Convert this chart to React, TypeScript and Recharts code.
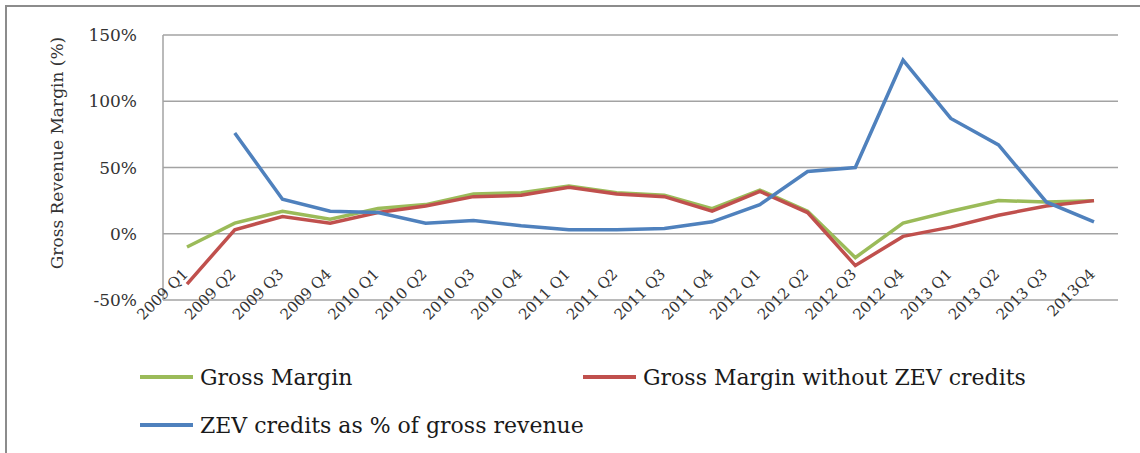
import React from 'react';
import { LineChart, Line, XAxis, YAxis, CartesianGrid, Legend } from 'recharts';

const quarters = [
    '2009 Q1', '2009 Q2', '2009 Q3', '2009 Q4',
    '2010 Q1', '2010 Q2', '2010 Q3', '2010 Q4',
    '2011 Q1', '2011 Q2', '2011 Q3', '2011 Q4',
    '2012 Q1', '2012 Q2', '2012 Q3', '2012 Q4',
    '2013 Q1', '2013 Q2', '2013 Q3', '2013Q4',
];
const grossMargin = [-10, 8, 17, 11, 19, 22, 30, 31, 36, 31, 29, 19, 33, 17, -18, 8, 17, 25, 24, 25];
const grossMarginNoZev = [-38, 3, 13, 8, 16, 21, 28, 29, 35, 30, 28, 17, 32, 16, -24, -2, 5, 14, 21, 25];
const zevShare = [null, 76, 26, 17, 16, 8, 10, 6, 3, 3, 4, 9, 22, 47, 50, 131, 87, 67, 24, 9];
const yTicks = [-50, 0, 50, 100, 150];

const SERIES = [
    { key: 'Gross Margin', color: '#9bbb59' },
    { key: 'Gross Margin without ZEV credits', color: '#c0504d' },
    { key: 'ZEV credits as % of gross revenue', color: '#4f81bd' },
];

const data = quarters.map((q, i) => ({
    name: q,
    'Gross Margin': grossMargin[i],
    'Gross Margin without ZEV credits': grossMarginNoZev[i],
    'ZEV credits as % of gross revenue': zevShare[i],
}));

const FONT = '"DejaVu Serif", serif';

const XTick = ({ x, y, payload }) => (
    <g transform={`translate(${x + 2},${y - 25})`}>
        <text textAnchor="end" transform="rotate(-45)" fontFamily={FONT} fontSize={15} fill="#333">
            {payload.value}
        </text>
    </g>
);

const LegendBox = () => {
    const pos = [
        { left: 140, top: 377 },
        { left: 583, top: 377 },
        { left: 140, top: 425 },
    ];
    return (
        <div style={{ position: 'relative', width: 1140, height: 100 }}>
            {SERIES.map((s, i) => (
                <div key={s.key} style={{ position: 'absolute', left: pos[i].left, top: pos[i].top - 355 - 14, height: 28, display: 'flex', alignItems: 'center', fontFamily: FONT, fontSize: 22, color: '#1a1a1a', whiteSpace: 'nowrap' }}>
                    <span style={{ display: 'inline-block', width: 53, height: 4, background: s.color, marginRight: 7 }} />
                    {s.key}
                </div>
            ))}
        </div>
    );
};

export default function App() {
    return (
        <div style={{ position: 'absolute', left: 0, top: 0, width: 1140, height: 453, background: '#fff' }}>
            <div style={{ position: 'absolute', left: 5, top: 5, width: 1140, height: 460, borderLeft: '2px solid #8c8c8c', borderTop: '2px solid #8c8c8c' }} />
            <LineChart width={1140} height={453} data={data} margin={{ top: 35, right: 22, left: 63, bottom: 113 }}>
                <CartesianGrid vertical={false} stroke="#a3a3a3" strokeWidth={1.5} />
                <XAxis dataKey="name" axisLine={false} tickLine={false} tickSize={0} tickMargin={0} tick={<XTick />} interval={0} height={40} padding={{ left: 24, right: 24 }} />
                <YAxis
                    width={100}
                    domain={[-50, 150]}
                    ticks={yTicks}
                    tickFormatter={(v) => `${v}%`}
                    axisLine={{ stroke: '#a3a3a3', strokeWidth: 1.5 }}
                    tickLine={false}
                    tickMargin={20}
                    tick={{ fontFamily: FONT, fontSize: 17, fill: '#333' }}
                    label={{
                        content: () => (
                            <text x={57} y={153} dy={6} transform="rotate(-90 57 153)" textAnchor="middle" fontFamily={FONT} fontSize={17} fill="#333">
                                Gross Revenue Margin (%)
                            </text>
                        ),
                    }}
                />
                <Legend verticalAlign="middle" align="center" layout="horizontal" content={<LegendBox />} wrapperStyle={{ position: 'absolute', left: 0, top: 355, width: 1140 }} />
                {SERIES.map((s) => (
                    <Line key={s.key} type="linear" dataKey={s.key} stroke={s.color} strokeWidth={3.5} dot={false} isAnimationActive={false} />
                ))}
            </LineChart>
        </div>
    );
}
